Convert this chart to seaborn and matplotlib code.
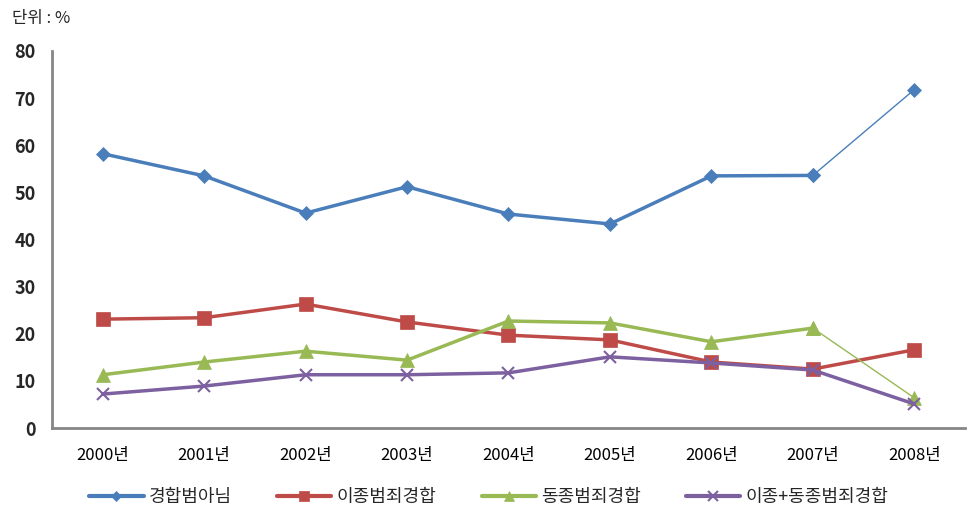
import numpy as np
import pandas as pd
import seaborn as sns
import matplotlib.pyplot as plt

years = ["2000년", "2001년", "2002년", "2003년", "2004년", "2005년", "2006년", "2007년", "2008년"]
not_combined = [58.2, 53.5, 45.6, 51.2, 45.4, 43.3, 53.5, 53.6, 71.8]
diff_combined = [23.1, 23.4, 26.3, 22.5, 19.7, 18.7, 14.0, 12.5, 16.6]
same_combined = [11.3, 14.0, 16.3, 14.4, 22.7, 22.3, 18.3, 21.2, 6.4]
both_combined = [7.2, 8.9, 11.3, 11.3, 11.7, 15.1, 13.8, 12.3, 5.1]

names = ["경합범아님", "이종범죄경합", "동종범죄경합", "이종+동종범죄경합"]
series = [not_combined, diff_combined, same_combined, both_combined]
colors = ["#4A7EBB", "#BE4B48", "#98B954", "#7D60A0"]
markers = ["D", "s", "^", "x"]
msizes = [7, 10, 10, 9]
thin_last = [True, False, True, False]

sns.set_style("white")
plt.rcParams["font.family"] = ["Noto Sans CJK KR", "DejaVu Sans"]

fig = plt.figure(figsize=(9.78, 5.22), dpi=100)
ax = fig.add_axes([52 / 978, 1 - 428 / 522, 913 / 978, 377 / 522])

pos = np.arange(len(years))
for name, vals, c, m, ms, thin in zip(names, series, colors, markers, msizes, thin_last):
    df = pd.DataFrame({"x": pos, "y": vals})
    mkw = dict(markeredgewidth=1.5 if m == "x" else 0.5, markeredgecolor=c)
    if thin:
        sns.lineplot(data=df.iloc[:-1], x="x", y="y", ax=ax, color=c, lw=2.5,
                     marker=m, markersize=ms, legend=False, **mkw)
        sns.lineplot(data=df.iloc[-2:], x="x", y="y", ax=ax, color=c, lw=1.0,
                     marker=m, markersize=ms, legend=False, **mkw)
    else:
        sns.lineplot(data=df, x="x", y="y", ax=ax, color=c, lw=2.5,
                     marker=m, markersize=ms, legend=False, **mkw)
    ax.plot([], [], color=c, lw=3, marker=m, markersize=ms * 0.75, label=name, **mkw)

ax.set_xlim(-0.5, len(years) - 0.5)
ax.set_ylim(0, 80)
ax.set_yticks(range(0, 81, 10))
ax.set_xticks(pos)
ax.set_xticklabels(years, fontsize=12, color="black")
ax.set_xticks(np.arange(-0.5, len(years), 1), minor=True)
ax.tick_params(axis="x", which="major", length=0, pad=14)
ax.tick_params(axis="x", which="minor", length=6, width=2, color="#868686", direction="out")
ax.tick_params(axis="y", length=6, width=2, color="#868686", direction="out", labelsize=13, pad=6)
for lab in ax.get_yticklabels():
    lab.set_fontweight("bold")
ax.set_xlabel("")
ax.set_ylabel("")
for s in ["top", "right"]:
    ax.spines[s].set_visible(False)
for s in ["left", "bottom"]:
    ax.spines[s].set_color("#868686")
    ax.spines[s].set_linewidth(2)

fig.text(12 / 978, 1 - 18 / 522, "단위 : %", fontsize=12, va="center", ha="left")
fig.legend(loc="center", bbox_to_anchor=(0.5, 1 - 497 / 522), ncol=4, frameon=False,
           fontsize=13, handlelength=3, columnspacing=2.5, handletextpad=0.3)

fig.savefig("out.png", dpi=100)
